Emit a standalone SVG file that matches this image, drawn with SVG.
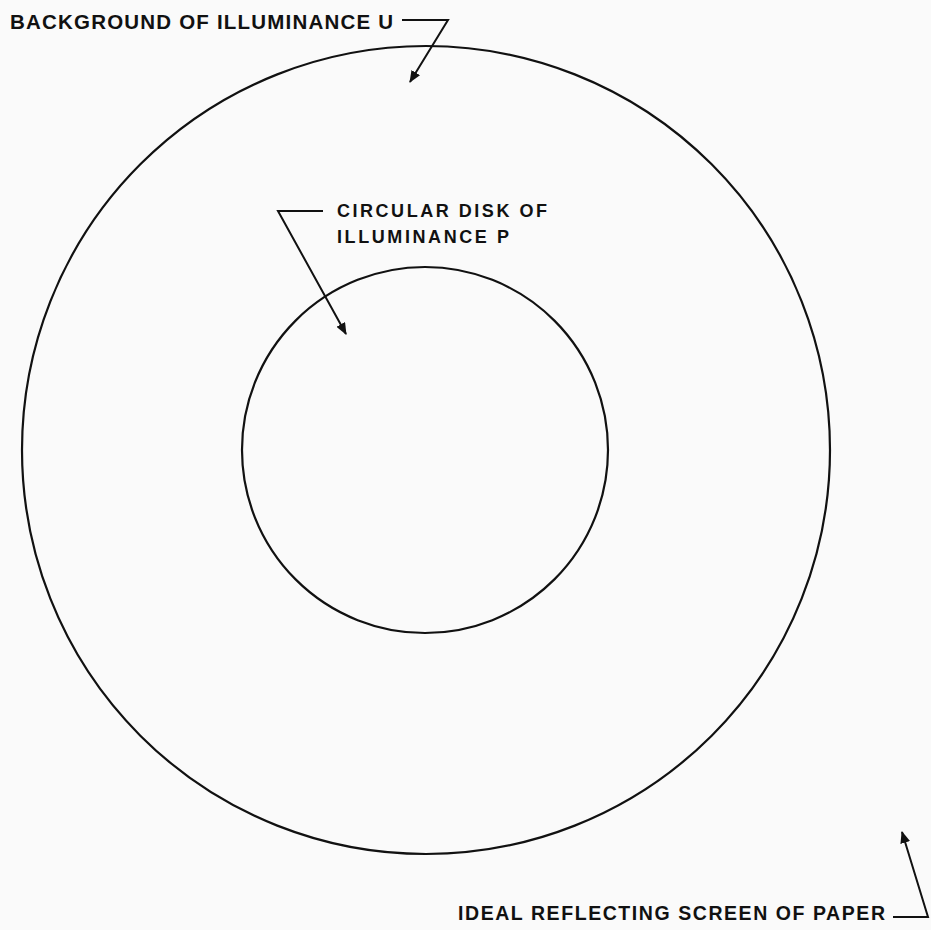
<svg xmlns="http://www.w3.org/2000/svg" width="931" height="930" viewBox="0 0 931 930">
<style>
.lbl{font-family:"Liberation Sans",Arial,sans-serif;font-weight:bold;fill:#111}
.ln{fill:none;stroke:#111;stroke-width:2}
.ring{fill:none;stroke:#111;stroke-width:2.2}
</style>
<defs>
<marker id="ah" viewBox="0 0 12 10" refX="11" refY="5" markerWidth="12" markerHeight="10" markerUnits="userSpaceOnUse" orient="auto">
<path d="M0,0 L12,5 L0,10 Z" fill="#111"/>
</marker>
</defs>
<rect width="931" height="930" fill="#fafafa"/>
<g id="outer-background">
<circle class="ring" cx="426" cy="450" r="404"/>
</g>
<g id="inner-disk">
<circle class="ring" cx="425" cy="450" r="183"/>
</g>
<g id="label-background">
<text class="lbl" x="10" y="29" font-size="20.5" textLength="383" lengthAdjust="spacing">BACKGROUND OF ILLUMINANCE U</text>
</g>
<g id="label-disk">
<text class="lbl" x="337" y="217" font-size="18" textLength="210" lengthAdjust="spacing">CIRCULAR DISK OF</text>
<text class="lbl" x="337" y="243" font-size="18" textLength="172" lengthAdjust="spacing">ILLUMINANCE P</text>
</g>
<g id="label-screen">
<text class="lbl" x="458" y="920" font-size="19.5" textLength="427" lengthAdjust="spacing">IDEAL REFLECTING SCREEN OF PAPER</text>
</g>
<g id="connectors">
<polyline class="ln" points="402,20 448,20 410,82" marker-end="url(#ah)"/>
<polyline class="ln" points="323,211 278,211 346,334" marker-end="url(#ah)"/>
<polyline class="ln" points="893,917 928,917 902,832" marker-end="url(#ah)"/>
</g>
</svg>
